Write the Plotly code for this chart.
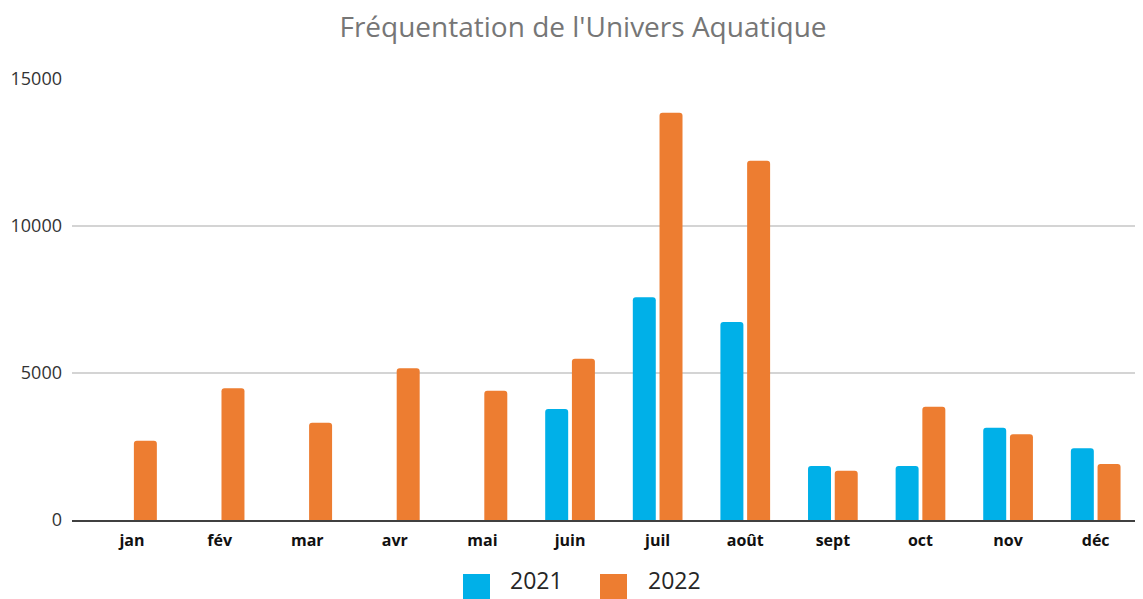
import plotly.graph_objects as go

months = ["jan", "fév", "mar", "avr", "mai", "juin", "juil", "août", "sept", "oct", "nov", "déc"]
series_names = ["2021", "2022"]
visits_2021 = [None, None, None, None, None, 3775, 7574, 6734, 1837, 1837, 3139, 2438]
visits_2022 = [2697, 4479, 3310, 5160, 4398, 5486, 13853, 12220, 1677, 3854, 2914, 1905]
y_ticks = [0, 5000, 10000, 15000]
colors = ["#00B0E8", "#ED7D31"]
title_text = "Fréquentation de l'Univers Aquatique"

# page body has an 8px default margin; design in page pixels and compensate
OFF = 8
PAGE_W, PAGE_H = 1143, 599
W, H = PAGE_W - OFF, PAGE_H - OFF
PLOT_L, PLOT_T, PLOT_B, PLOT_R = 72, 79, 520, 1143   # page pixels
L, T = PLOT_L - OFF, PLOT_T - OFF
B = PAGE_H - PLOT_B
R = PAGE_W - PLOT_R

fig = go.Figure()
for name, vals, col in zip(series_names, [visits_2021, visits_2022], colors):
    fig.add_trace(go.Bar(
        x=months, y=vals, name=name,
        marker=dict(color=col, line=dict(width=0), cornerradius=3),
        showlegend=False,
    ))

pw, ph = PLOT_R - PLOT_L, PLOT_B - PLOT_T
def px_x(x):
    return (x - PLOT_L) / pw
def px_y(y):
    return (PLOT_B - y) / ph

shapes = []
annotations = []
legend_x = [463, 600]
text_x = [508, 646]
for i, name in enumerate(series_names):
    shapes.append(dict(type="rect", xref="paper", yref="paper",
                       x0=px_x(legend_x[i]), x1=px_x(legend_x[i] + 27),
                       y0=px_y(574), y1=px_y(599),
                       fillcolor=colors[i], line=dict(width=0), layer="above"))
    annotations.append(dict(xref="paper", yref="paper", x=px_x(text_x[i]), y=px_y(598),
                            xanchor="left", yanchor="bottom", showarrow=False,
                            text=name, font=dict(family="Open Sans", size=23, color="#262626")))

fig.update_layout(
    width=W, height=H,
    margin=dict(l=L, r=R, t=T, b=B, autoexpand=False),
    paper_bgcolor="white", plot_bgcolor="white",
    barmode="group", bargap=0.39, bargroupgap=0.14,
    title=dict(text=title_text, x=(583 - OFF) / W, xref="container", xanchor="center",
               y=1 - (27.5 - OFF) / H, yref="container", yanchor="middle",
               font=dict(family="Open Sans", size=28, color="#767676")),
    xaxis=dict(range=[-0.685, 11.54], showgrid=False, showline=True,
               linecolor="#404040", linewidth=2, ticks="", ticklabelstandoff=5,
               tickfont=dict(family="Open Sans", size=16, color="#111111", weight="bold")),
    yaxis=dict(range=[0, 15000], tickvals=y_ticks, ticktext=[str(v) for v in y_ticks],
               showgrid=True, gridcolor="#D4D4D4", gridwidth=1.5, zeroline=False,
               showline=False, ticks="", ticklabelstandoff=9,
               tickfont=dict(family="Open Sans", size=18, color="#333333")),
    shapes=shapes, annotations=annotations,
)

fig.write_html("out.html")
